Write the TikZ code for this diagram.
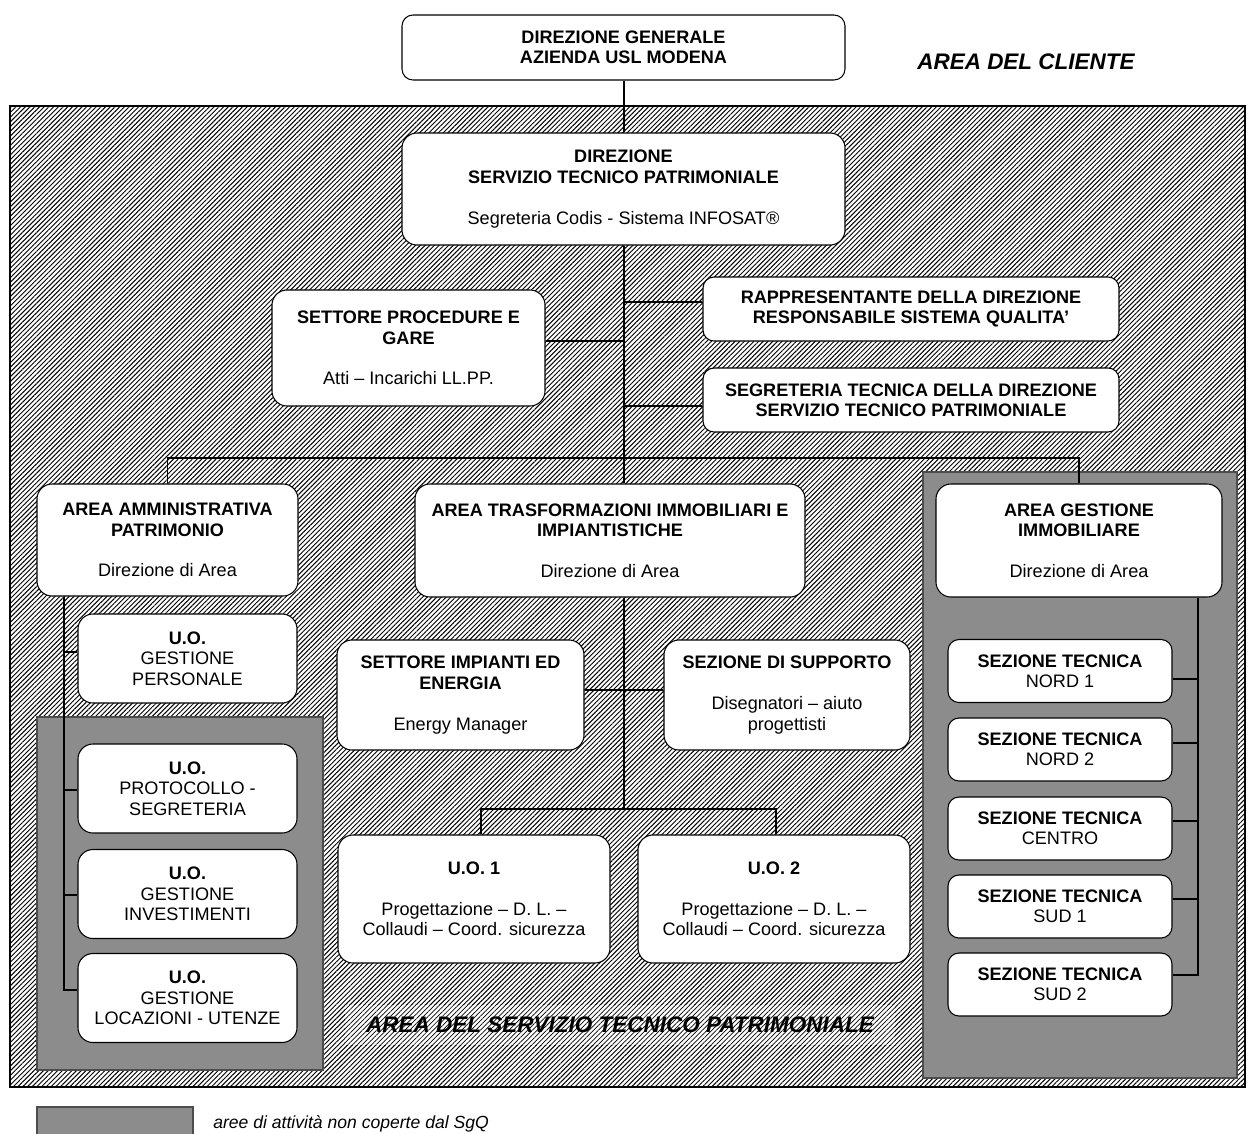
\documentclass[tikz,border=0pt]{standalone}
\usepackage{fontspec}
\setmainfont{Liberation Sans}
\usetikzlibrary{patterns.meta}
\definecolor{areagray}{RGB}{140,140,140}
\tikzset{
  txt/.style={font=\fontsize{10.3}{11.6}\selectfont},
  box/.style={draw=black, line width=0.6pt, fill=white, rounded corners=0.3cm,
    align=center, inner sep=0pt, txt},
  sbox/.style={box, rounded corners=0.22cm},
  wh/.style 2 args={minimum width=#1*0.02cm, minimum height=#2*0.02cm},
  conn/.style={draw=black, line width=0.6pt},
  hatch/.style={pattern={Lines[angle=45,distance=1.9pt,line width=0.55pt]}, pattern color=black},
  lighthatch/.style={pattern={Lines[angle=45,distance=1.9pt,line width=0.4pt]}, pattern color=black},
  grayarea/.style={fill=areagray, draw=black!70, line width=0.6pt},
  bigtitle/.style={font=\fontsize{12.8}{15}\selectfont\bfseries\itshape}
}
\begin{document}
\begin{tikzpicture}[x=0.02cm,y=-0.02cm]
\useasboundingbox (0,0) rectangle (1250,1133);
\fill[white] (0,0) rectangle (1250,1133);
% hatched service area
\fill[white] (10,106) rectangle (1245,1087);
\path[hatch] (10,106) rectangle (1245,1087);
\draw[black, line width=0.6pt] (10,106) rectangle (1245,1087);
% gray areas (not covered by SgQ)
\path[grayarea] (923,472) rectangle (1237,1078);
\path[grayarea] (37,717) rectangle (323,1070);
% title of hatched area
\node[bigtitle, fill=white, minimum width=550*0.02cm, minimum height=40*0.02cm, inner sep=0pt] (stbg) at (620,1025) {};
\path[lighthatch] (stbg.south west) rectangle (stbg.north east);
\node[bigtitle] (sttitle) at (620,1025) {AREA DEL SERVIZIO TECNICO PATRIMONIALE};
\node[bigtitle, anchor=base] (cliente) at (1026,69) {AREA DEL CLIENTE};
% legend
\path[grayarea] (37,1107) rectangle (193,1145);
\node[txt, font=\fontsize{10}{12}\selectfont\itshape, anchor=base west, inner sep=0pt] (legend) at (213,1128) {aree di attività non coperte dal SgQ};

% connector helper coordinates
\coordinate (tx) at (624,0);
\coordinate (lv) at (64,0);
\coordinate (rv) at (1198,0);
\coordinate (j2) at (624,809);

% nodes
\node[sbox, wh={443}{65}] (dg) at (623.5,47.5) {\textbf{DIREZIONE GENERALE}\\\textbf{AZIENDA USL MODENA}};
\node[box, wh={443}{112}] (dstp) at (623.5,189) {\textbf{DIREZIONE}\\\textbf{SERVIZIO TECNICO PATRIMONIALE}\\[11.6pt]Segreteria Codis - Sistema INFOSAT®};
\node[box, wh={273}{116}] (spg) at (408.5,348) {\textbf{SETTORE PROCEDURE E}\\\textbf{GARE}\\[11.6pt]Atti – Incarichi LL.PP.};
\node[sbox, wh={416}{64}] (rapp) at (911,309) {\textbf{RAPPRESENTANTE DELLA DIREZIONE}\\\textbf{RESPONSABILE SISTEMA QUALITA'}};
\node[sbox, wh={416}{64}] (segr) at (911,400) {\textbf{SEGRETERIA TECNICA DELLA DIREZIONE}\\\textbf{SERVIZIO TECNICO PATRIMONIALE}};
\node[box, wh={261}{112}] (amm) at (167.5,540) {\textbf{AREA AMMINISTRATIVA}\\\textbf{PATRIMONIO}\\[11.6pt]Direzione di Area};
\node[box, wh={390}{113}] (trasf) at (610,540.5) {\textbf{AREA TRASFORMAZIONI IMMOBILIARI E}\\\textbf{IMPIANTISTICHE}\\[11.6pt]Direzione di Area};
\node[box, wh={286}{113}] (gest) at (1079,540.5) {\textbf{AREA GESTIONE}\\\textbf{IMMOBILIARE}\\[11.6pt]Direzione di Area};
\node[box, wh={219}{89}] (uoA) at (187.5,658.5) {\textbf{U.O.}\\GESTIONE\\PERSONALE};
\node[box, wh={219}{89}] (uoB) at (187.5,788.5) {\textbf{U.O.}\\PROTOCOLLO -\\SEGRETERIA};
\node[box, wh={219}{89}] (uoC) at (187.5,894) {\textbf{U.O.}\\GESTIONE\\INVESTIMENTI};
\node[box, wh={219}{89}] (uoD) at (187.5,998) {\textbf{U.O.}\\GESTIONE\\LOCAZIONI - UTENZE};
\node[box, wh={247}{110}] (sie) at (460.5,695) {\textbf{SETTORE IMPIANTI ED}\\\textbf{ENERGIA}\\[11.6pt]Energy Manager};
\node[box, wh={246}{110}] (ssup) at (787,695) {\textbf{SEZIONE DI SUPPORTO}\\[11.6pt]Disegnatori – aiuto\\progettisti};
\node[box, wh={272}{128}] (uo1) at (474,899) {\textbf{U.O. 1}\\[11.6pt]Progettazione – D. L. –\\Collaudi – Coord. sicurezza};
\node[box, wh={272}{128}] (uo2) at (774,899) {\textbf{U.O. 2}\\[11.6pt]Progettazione – D. L. –\\Collaudi – Coord. sicurezza};
\node[sbox, wh={224}{63}] (sz1) at (1060,671) {\textbf{SEZIONE TECNICA}\\NORD 1};
\node[sbox, wh={224}{63}] (sz2) at (1060,749.5) {\textbf{SEZIONE TECNICA}\\NORD 2};
\node[sbox, wh={224}{63}] (sz3) at (1060,828.5) {\textbf{SEZIONE TECNICA}\\CENTRO};
\node[sbox, wh={224}{63}] (sz4) at (1060,906.5) {\textbf{SEZIONE TECNICA}\\SUD 1};
\node[sbox, wh={224}{63}] (sz5) at (1060,984.5) {\textbf{SEZIONE TECNICA}\\SUD 2};

% connectors
\draw[conn] (dg.south -| tx) -- (dstp.north -| tx);
\draw[conn] (dstp.south -| tx) -- (trasf.north -| tx);
\draw[conn] (trasf.south -| tx) -- (j2);
\draw[conn] (spg.east |- 0,341) -- (tx |- 0,341);
\draw[conn] (tx |- 0,302) -- (rapp.west |- 0,302);
\draw[conn] (tx |- 0,406) -- (segr.west |- 0,406);
\draw[conn] (amm.north) |- (tx |- 0,458) -| (gest.north);
\draw[conn] (sie.east |- 0,690) -- (ssup.west |- 0,690);
\draw[conn] (uo1.north -| 481,0) |- (j2) -| (uo2.north -| 776,0);
\draw[conn] (amm.south -| lv) |- (uoD.west |- 0,990);
\draw[conn] (lv |- 0,652) -- (uoA.west |- 0,652);
\draw[conn] (lv |- 0,790) -- (uoB.west |- 0,790);
\draw[conn] (lv |- 0,895) -- (uoC.west |- 0,895);
\draw[conn] (gest.south -| rv) |- (sz5.east |- 0,975);
\draw[conn] (rv |- 0,679) -- (sz1.east |- 0,679);
\draw[conn] (rv |- 0,743) -- (sz2.east |- 0,743);
\draw[conn] (rv |- 0,821) -- (sz3.east |- 0,821);
\draw[conn] (rv |- 0,899) -- (sz4.east |- 0,899);
\end{tikzpicture}
\end{document}
